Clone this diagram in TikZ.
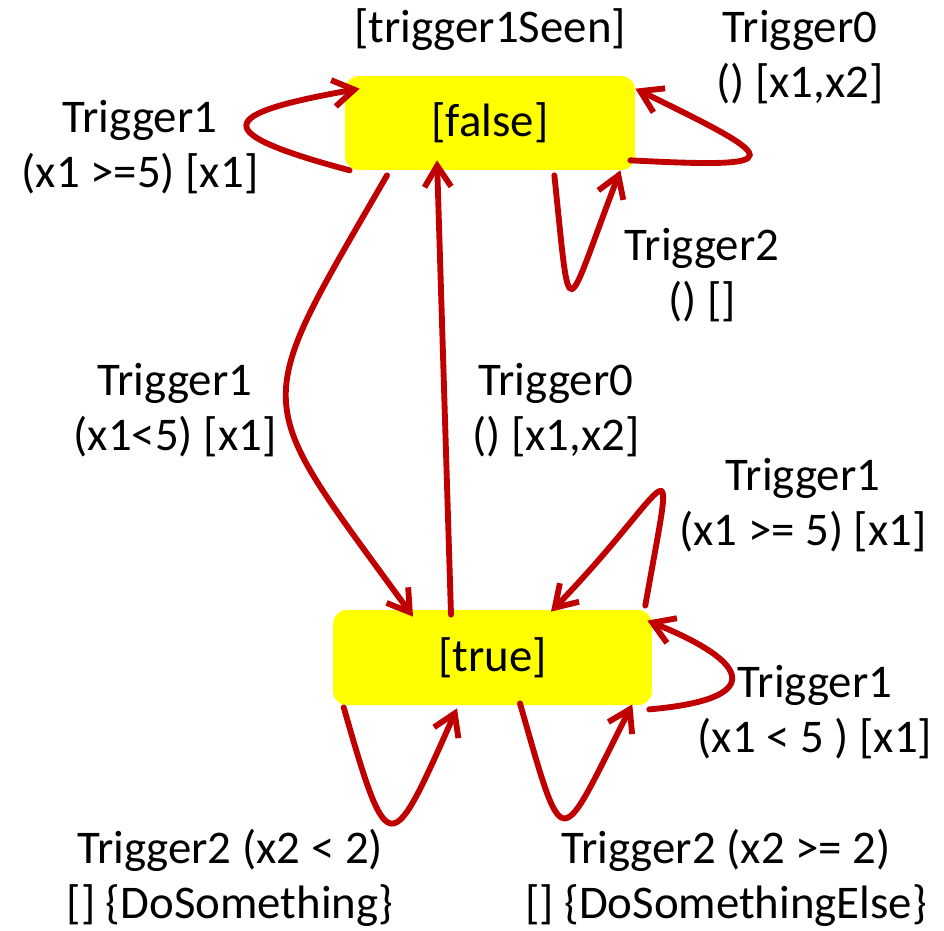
\documentclass[tikz,border=0pt]{standalone}
\usepackage{fontspec}
\setmainfont{Carlito}
\usetikzlibrary{arrows.meta}
\definecolor{transred}{HTML}{C00000}
\definecolor{stateyellow}{HTML}{FFFF00}

\begin{document}
\begin{tikzpicture}[
    x=0.018cm, y=0.018cm,
    state/.style={fill=stateyellow, rounded corners=7pt, align=center, font=\fontsize{24}{28}\selectfont},
    lab/.style={align=center, inner sep=1pt, font=\fontsize{24}{28}\selectfont},
    trans/.style={-{Straight Barb[length=3.8mm, width=4.8mm]}, line width=3pt, transred, line cap=round}
  ]
    \useasboundingbox (0,0) rectangle (944,-930);

    \node[state, minimum width=5.22cm, minimum height=1.69cm] (stFalse) at (490,-123)     {[false]};
    \node[state, minimum width=5.74cm, minimum height=1.71cm] (stTrue)  at (492.5,-657.5) {[true]};

    \node[lab] (seenLab)  at (490,-30)  {[trigger1Seen]};
    \node[lab] (fT0Lab)   at (800,-57)  {Trigger0\\() [x1,x2]};
    \node[lab] (fT1Lab)   at (140,-147) {Trigger1\\(x1 >=5) [x1]};
    \node[lab] (fT2Lab)   at (702,-275) {Trigger2\\() []};
    \node[lab] (ftT1Lab)  at (175,-410) {Trigger1\\(x1<5) [x1]};
    \node[lab] (tfT0Lab)  at (556,-410) {Trigger0\\() [x1,x2]};
    \node[lab] (tT1aLab)  at (803,-505) {Trigger1\\(x1 >= 5) [x1]};
    \node[lab] (tT1bLab)  at (815,-712) {Trigger1\\(x1 < 5 ) [x1]};
    \node[lab] (tT2aLab)  at (230,-878) {Trigger2 (x2 < 2)\\{}[] \{DoSomething\}};
    \node[lab] (tT2bLab)  at (726,-878) {Trigger2 (x2 >= 2)\\{}[] \{DoSomethingElse\}};

    % loops on [false]
    \draw[trans] ([shift={(5,0)}]stFalse.south west) to[out=165, in=190, looseness=4.57] ([shift={(15,-13)}]stFalse.north west);
    \draw[trans] ([shift={(-5,10)}]stFalse.south east) to[out=-3, in=-26, looseness=5.81] ([shift={(0,-13)}]stFalse.north east);
    \draw[trans] ([shift={(-81,-5)}]stFalse.south east) to[out=-84, in=249, looseness=6.17] ([shift={(-15,0)}]stFalse.south east);

    % between the states
    \draw[trans] ([shift={(-103,-5)}]stFalse.south) to[out=240, in=126, looseness=1.61] ([shift={(-79.5,-7)}]stTrue.north);
    \draw[trans] ([shift={(-41.5,-5)}]stTrue.north) -- ([shift={(-53,10)}]stFalse.south);

    % loops on [true]
    \draw[trans] ([shift={(-7,4)}]stTrue.north east) to[out=80, in=46, looseness=4.92] ([shift={(58.5,-2)}]stTrue.north);
    \draw[trans] ([shift={(-3,-4)}]stTrue.south east) to[out=5, in=-22, looseness=3.31] ([shift={(-5,-11)}]stTrue.north east);
    \draw[trans] ([shift={(11,-2)}]stTrue.south west) to[out=-74, in=246, looseness=3.68] ([shift={(-35.5,-3)}]stTrue.south);
    \draw[trans] ([shift={(27.5,2)}]stTrue.south) to[out=-74, in=243, looseness=3.72] ([shift={(-20,1)}]stTrue.south east);
  \end{tikzpicture}
\end{document}
